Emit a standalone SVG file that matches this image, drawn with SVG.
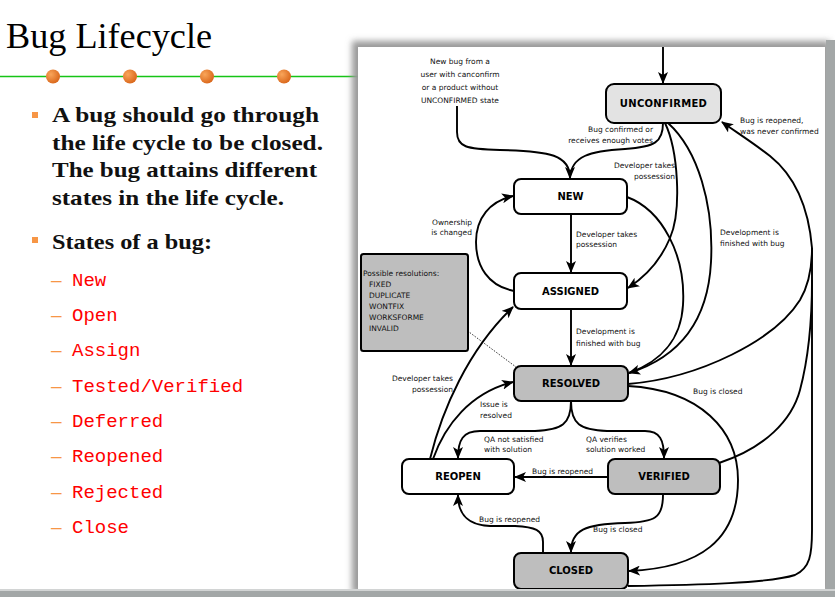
<svg xmlns="http://www.w3.org/2000/svg" width="835" height="597" viewBox="0 0 835 597">
  <style>
    .node { stroke: #000; stroke-width: 2; }
    .white { fill: #fff; }
    .gray { fill: #bebebe; }
    .light { fill: #e3e3e3; }
    .nlabel { font-family: "DejaVu Sans", sans-serif; font-weight: bold; font-size: 10px; text-anchor: middle; fill: #000; }
    .lbl { font-family: "DejaVu Sans", sans-serif; font-size: 7.5px; fill: #111; }
    .end { text-anchor: end; }
    .conn { fill: none; stroke: #000; stroke-width: 1.9; }
    .head { marker-end: url(#ah); }
    .bul { font-family: "Liberation Serif", serif; font-weight: bold; font-size: 21px; fill: #111; }
    .item { font-family: "Liberation Mono", monospace; font-size: 19px; fill: #ff0000; }
    .dash { font-family: "Liberation Sans", sans-serif; font-size: 19px; fill: #f79646; }
  </style>
  <defs>
    <marker id="ah" viewBox="0 0 12 10" refX="11" refY="5" markerWidth="12" markerHeight="10" markerUnits="userSpaceOnUse" orient="auto">
      <path d="M0,0 L12,5 L0,10 L3,5 z" fill="#000"/>
    </marker>
    <radialGradient id="dot" cx="0.35" cy="0.35" r="0.7">
      <stop offset="0" stop-color="#f9a55a"/>
      <stop offset="1" stop-color="#d9661a"/>
    </radialGradient>
    <filter id="shadow" x="-5%" y="-5%" width="110%" height="110%">
      <feGaussianBlur stdDeviation="3"/>
    </filter>
  </defs>

  <!-- slide background -->
  <rect x="0" y="0" width="835" height="597" fill="#fff"/>

  <!-- title and rule -->
  <text x="6" y="48" font-family="Liberation Serif, serif" font-size="35" textLength="206" lengthAdjust="spacingAndGlyphs" fill="#000">Bug Lifecycle</text>
  <line x1="0" y1="76.5" x2="360" y2="76.5" stroke="#16c416" stroke-width="1.3"/>
  <circle cx="53" cy="76.5" r="7" fill="url(#dot)"/>
  <circle cx="130" cy="76.5" r="7" fill="url(#dot)"/>
  <circle cx="207" cy="76.5" r="7" fill="url(#dot)"/>
  <circle cx="284" cy="76.5" r="7" fill="url(#dot)"/>

  <!-- bullet text -->
  <rect x="32" y="112" width="6" height="6" fill="#f79646"/>
  <text class="bul" x="52" y="122" textLength="267" lengthAdjust="spacingAndGlyphs">A bug should go through</text>
  <text class="bul" x="52" y="150" textLength="271" lengthAdjust="spacingAndGlyphs">the life cycle to be closed.</text>
  <text class="bul" x="52" y="177" textLength="265" lengthAdjust="spacingAndGlyphs">The bug attains different</text>
  <text class="bul" x="52" y="205" textLength="232" lengthAdjust="spacingAndGlyphs">states in the life cycle.</text>
  <rect x="32" y="237" width="6" height="6" fill="#f79646"/>
  <text class="bul" x="52" y="249" textLength="160" lengthAdjust="spacingAndGlyphs">States of a bug:</text>

  <text class="dash" x="51" y="286">–</text><text class="item" x="72" y="286">New</text>
  <text class="dash" x="51" y="321">–</text><text class="item" x="72" y="321">Open</text>
  <text class="dash" x="51" y="356">–</text><text class="item" x="72" y="356">Assign</text>
  <text class="dash" x="51" y="392">–</text><text class="item" x="72" y="392">Tested/Verified</text>
  <text class="dash" x="51" y="427">–</text><text class="item" x="72" y="427">Deferred</text>
  <text class="dash" x="51" y="462">–</text><text class="item" x="72" y="462">Reopened</text>
  <text class="dash" x="51" y="498">–</text><text class="item" x="72" y="498">Rejected</text>
  <text class="dash" x="51" y="533">–</text><text class="item" x="72" y="533">Close</text>

  <!-- picture panel with drop shadow -->
  <rect x="352" y="41" width="478" height="552" fill="#9a9a9a" filter="url(#shadow)"/>
  <rect x="358" y="47" width="467" height="542" fill="#fff"/>

  <!-- connectors -->
  <g id="connectors">
    <path class="conn head" d="M663,47 L663,83"/>
    <path class="conn head" d="M457,106 L457,132 C457,147 466,149 500,150 C550,151 570,155 570,178"/>
    <path class="conn" d="M663,123 C663,142 655,147 625,149 C590,151 571,156 570,178"/>
    <path class="conn head" d="M665,123 C678,150 682,210 670,238 C660,262 645,277 628,288"/>
    <path class="conn head" d="M668,123 C698,150 714,205 711,262 C708,320 680,357 629,373"/>
    <path class="conn" d="M627,197 C662,210 686,255 683,305 C681,340 660,362 629,373"/>
    <path class="conn head" d="M571,214 L571,272"/>
    <path class="conn head" d="M571,309 L571,365"/>
    <path class="conn head" d="M514,291 C488,286 476,266 476,242 C476,218 490,201 513,196"/>
    <path class="conn head" d="M430,459 C442,410 468,350 513,307"/>
    <path class="conn head" d="M433,459 C445,425 470,393 513,382"/>
    <path class="conn head" d="M571,401 C571,424 562,430 535,431 L480,431 C463,431 458,440 458,458"/>
    <path class="conn head" d="M571,401 C571,424 580,430 607,431 L645,431 C660,431 664,440 664,458"/>
    <path class="conn head" d="M608,477 L515,477"/>
    <path class="conn head" d="M663,495 C663,518 655,522 625,523 C585,524 571,530 571,552"/>
    <path class="conn head" d="M543,553 L543,542 C543,530 535,527 515,526 L490,526 C468,525 458,515 458,495"/>
    <path class="conn head" d="M628,386 C700,390 738,430 738,480 C738,540 700,568 629,571"/>
    <path class="conn" d="M628,384 C700,378 775,340 800,300 C810,283 812,265 812,248"/>
    <path class="conn" d="M719,463 C765,448 792,420 800,390 C808,360 812,320 812,280"/>
    <path class="conn" d="M628,586 C700,585 770,583 795,575 C810,568 812,555 812,530 L812,248"/>
    <path class="conn head" d="M812,248 C808,200 790,172 770,156 C752,142 736,132 722,122"/>
    <path d="M465,329 L516,367" fill="none" stroke="#000" stroke-width="0.8" stroke-dasharray="1.5,1.5"/>
  </g>

  <!-- states -->
  <g id="unconfirmed">
    <rect class="node light" x="606" y="84" width="115" height="39" rx="8"/>
    <text class="nlabel" x="663.5" y="107" letter-spacing="0.3">UNCONFIRMED</text>
  </g>
  <g id="new">
    <rect class="node white" x="514" y="179" width="113" height="35" rx="7"/>
    <text class="nlabel" x="570.5" y="200">NEW</text>
  </g>
  <g id="assigned">
    <rect class="node white" x="514" y="273" width="113" height="36" rx="7"/>
    <text class="nlabel" x="570.5" y="294.5">ASSIGNED</text>
  </g>
  <g id="resolved">
    <rect class="node gray" x="514" y="366" width="114" height="35" rx="7"/>
    <text class="nlabel" x="571" y="387">RESOLVED</text>
  </g>
  <g id="reopen">
    <rect class="node white" x="402" y="459" width="112" height="35" rx="7"/>
    <text class="nlabel" x="458" y="480">REOPEN</text>
  </g>
  <g id="verified">
    <rect class="node gray" x="608" y="459" width="112" height="35" rx="7"/>
    <text class="nlabel" x="664" y="480">VERIFIED</text>
  </g>
  <g id="closed">
    <rect class="node gray" x="514" y="553" width="114" height="36" rx="7"/>
    <text class="nlabel" x="571" y="574">CLOSED</text>
  </g>
  <g id="resolutions">
    <rect class="node gray" x="361" y="254" width="107" height="97" rx="2.5"/>
    <text class="lbl" x="363" y="276">Possible resolutions:</text>
    <text class="lbl" x="369" y="287">FIXED</text>
    <text class="lbl" x="369" y="298">DUPLICATE</text>
    <text class="lbl" x="369" y="309">WONTFIX</text>
    <text class="lbl" x="369" y="320">WORKSFORME</text>
    <text class="lbl" x="369" y="331">INVALID</text>
  </g>

  <!-- transition labels -->
  <g id="labels">
    <text class="lbl" x="460" y="64" font-size="9" text-anchor="middle">New bug from a</text>
    <text class="lbl" x="460" y="77" font-size="9" text-anchor="middle">user with canconfirm</text>
    <text class="lbl" x="460" y="89.5" font-size="9" text-anchor="middle">or a product without</text>
    <text class="lbl" x="460" y="102.5" font-size="9" text-anchor="middle">UNCONFIRMED state</text>
    <text class="lbl end" x="653" y="132">Bug confirmed or</text>
    <text class="lbl end" x="653" y="143">receives enough votes</text>
    <text class="lbl end" x="675" y="168">Developer takes</text>
    <text class="lbl end" x="675" y="179">possession</text>
    <text class="lbl" x="576" y="237">Developer takes</text>
    <text class="lbl" x="576" y="247">possession</text>
    <text class="lbl end" x="472" y="225">Ownership</text>
    <text class="lbl end" x="472" y="235">is changed</text>
    <text class="lbl" x="576" y="334">Development is</text>
    <text class="lbl" x="576" y="346">finished with bug</text>
    <text class="lbl" x="720" y="235">Development is</text>
    <text class="lbl" x="720" y="246">finished with bug</text>
    <text class="lbl" x="740" y="123">Bug is reopened,</text>
    <text class="lbl" x="740" y="134">was never confirmed</text>
    <text class="lbl" x="693" y="394">Bug is closed</text>
    <text class="lbl end" x="453" y="381">Developer takes</text>
    <text class="lbl end" x="453" y="392">possession</text>
    <text class="lbl" x="480" y="407">Issue is</text>
    <text class="lbl" x="480" y="418">resolved</text>
    <text class="lbl" x="484" y="442">QA not satisfied</text>
    <text class="lbl" x="484" y="452">with solution</text>
    <text class="lbl" x="586" y="442">QA verifies</text>
    <text class="lbl" x="586" y="452">solution worked</text>
    <text class="lbl" x="532" y="474">Bug is reopened</text>
    <text class="lbl" x="479" y="522">Bug is reopened</text>
    <text class="lbl" x="593" y="532">Bug is closed</text>
  </g>

  <!-- window edges -->
  <rect x="826" y="40" width="9" height="557" fill="#a3a7a7"/>
  <rect x="0" y="589" width="835" height="2" fill="#d2d4d4"/>
  <rect x="0" y="591" width="835" height="6" fill="#a3a7a7"/>
</svg>
